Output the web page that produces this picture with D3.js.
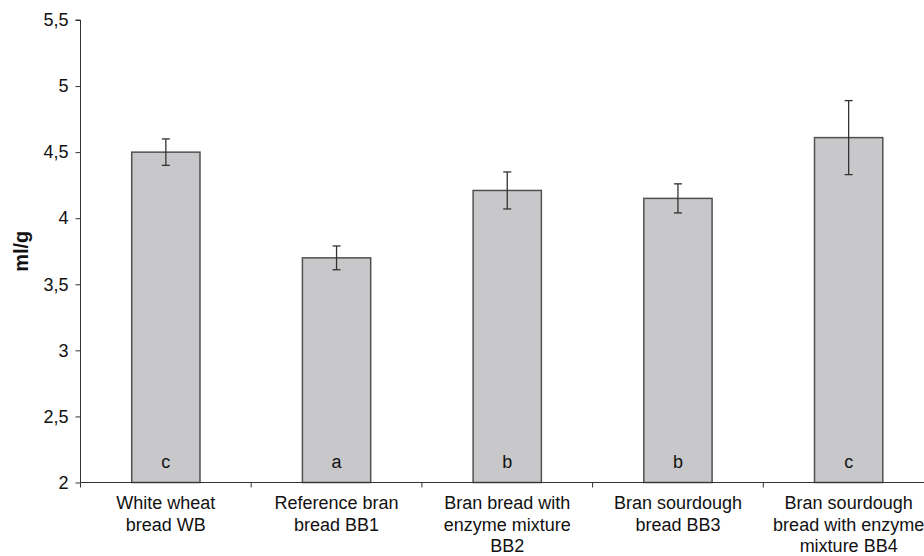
<!DOCTYPE html>
<html>
<head>
<meta charset="utf-8">
<script src="https://cdn.jsdelivr.net/npm/d3@7"></script>
<style>
  body { margin: 0; background: #fff; }
  svg { display: block; font-family: "Liberation Sans", Arial, sans-serif; }
</style>
</head>
<body>
<div id="chart"></div>
<script>
(function() {
  const categories = [
    ["White wheat", "bread WB"],
    ["Reference bran", "bread BB1"],
    ["Bran bread with", "enzyme mixture", "BB2"],
    ["Bran sourdough", "bread BB3"],
    ["Bran sourdough", "bread with enzyme", "mixture BB4"]
  ];
  const values = [4.5, 3.7, 4.21, 4.15, 4.61];
  const errors = [0.1, 0.09, 0.14, 0.11, 0.28];
  const letters = ["c", "a", "b", "b", "c"];
  const yTicks = [2, 2.5, 3, 3.5, 4, 4.5, 5, 5.5];

  const width = 924, height = 556;
  const left = 80.5, right = 934, top = 20, bottom = 482.5;

  const svg = d3.select("#chart").append("svg")
    .attr("width", width).attr("height", height);

  const x = d3.scaleBand()
    .domain(d3.range(categories.length))
    .range([left, right])
    .paddingInner(0.6).paddingOuter(0.3);

  const band = d3.scaleBand()
    .domain(d3.range(categories.length))
    .range([left, right]);

  const y = d3.scaleLinear().domain([2, 5.5]).range([bottom, top]);

  // Bars
  svg.selectAll(".bar")
    .data(values)
    .join("rect")
    .attr("x", (d, i) => x(i))
    .attr("y", d => y(d))
    .attr("width", x.bandwidth())
    .attr("height", d => y(2) - y(d))
    .attr("fill", "#c8c8ca")
    .attr("stroke", "#505050")
    .attr("stroke-width", 1.5);

  // Error bars
  const eb = svg.selectAll(".err")
    .data(values)
    .join("g")
    .attr("stroke", "#333")
    .attr("stroke-width", 1.3);
  eb.append("line")
    .attr("x1", (d, i) => x(i) + x.bandwidth() / 2)
    .attr("x2", (d, i) => x(i) + x.bandwidth() / 2)
    .attr("y1", (d, i) => y(d + errors[i]))
    .attr("y2", (d, i) => y(d - errors[i]));
  [1, -1].forEach(s => {
    eb.append("line")
      .attr("x1", (d, i) => x(i) + x.bandwidth() / 2 - 4)
      .attr("x2", (d, i) => x(i) + x.bandwidth() / 2 + 4)
      .attr("y1", (d, i) => y(d + s * errors[i]))
      .attr("y2", (d, i) => y(d + s * errors[i]));
  });

  // Letters
  svg.selectAll(".letter")
    .data(letters)
    .join("text")
    .attr("x", (d, i) => x(i) + x.bandwidth() / 2)
    .attr("y", y(2) - 15)
    .attr("text-anchor", "middle")
    .attr("font-size", "18px")
    .attr("fill", "#111")
    .text(d => d);

  // Y axis
  const yAxis = svg.append("g")
    .attr("transform", `translate(${left},0)`)
    .call(d3.axisLeft(y).tickValues(yTicks).tickSize(5).tickPadding(7)
      .tickFormat(d => String(d).replace(".", ",")));
  yAxis.select(".domain").attr("stroke", "#333").attr("d", `M-5,${top}H0V${bottom}`);
  yAxis.selectAll("line").attr("stroke", "#333");
  yAxis.selectAll("text").attr("font-size", "18px").attr("fill", "#111")
    .attr("font-family", "Liberation Sans, Arial, sans-serif");

  // X axis
  const xAxis = svg.append("g").attr("transform", `translate(0,${bottom})`);
  xAxis.append("line")
    .attr("x1", left).attr("x2", right)
    .attr("stroke", "#333").attr("stroke-width", 1.2);
  xAxis.selectAll(".tick")
    .data(d3.range(categories.length + 1))
    .join("line")
    .attr("x1", i => i < categories.length ? band(i) : right)
    .attr("x2", i => i < categories.length ? band(i) : right)
    .attr("y1", 0).attr("y2", 5)
    .attr("stroke", "#333");

  svg.selectAll(".xlabel")
    .data(categories)
    .join("text")
    .attr("x", (d, i) => band(i) + band.bandwidth() / 2)
    .attr("y", 509)
    .attr("text-anchor", "middle")
    .attr("font-size", "18px")
    .attr("fill", "#111")
    .each(function(d) {
      d3.select(this).selectAll("tspan")
        .data(d)
        .join("tspan")
        .attr("x", d3.select(this).attr("x"))
        .attr("dy", (t, j) => j === 0 ? 0 : 21.5)
        .text(t => t);
    });

  // Y label
  svg.append("text")
    .attr("transform", `translate(28,${(top + bottom) / 2}) rotate(-90)`)
    .attr("text-anchor", "middle")
    .attr("font-size", "20px")
    .attr("font-weight", "bold")
    .attr("fill", "#111")
    .text("ml/g");
})();
</script>
</body>
</html>
